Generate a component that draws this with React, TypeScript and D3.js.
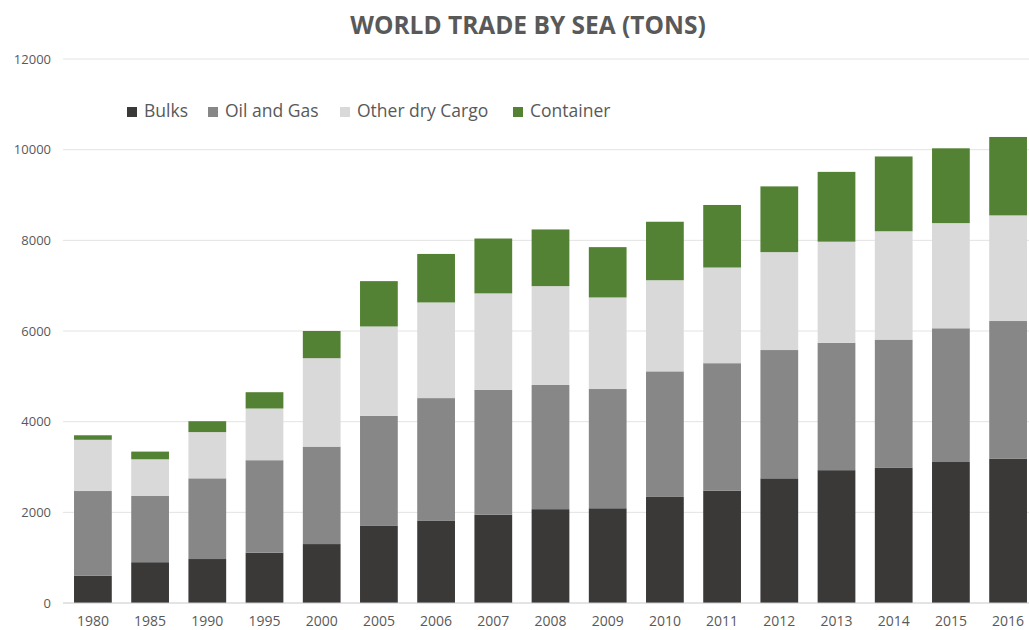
import React from "react";
import * as d3 from "d3";

const years = ["1980","1985","1990","1995","2000","2005","2006","2007","2008","2009","2010","2011","2012","2013","2014","2015","2016"];
const bulks = [600,900,970,1110,1300,1700,1820,1950,2070,2090,2340,2480,2750,2930,2980,3110,3180];
const oilGas = [1870,1460,1780,2040,2150,2430,2700,2750,2740,2630,2770,2810,2830,2810,2830,2950,3040];
const otherDry = [1130,810,1020,1140,1950,1970,2110,2130,2180,2020,2010,2110,2160,2230,2390,2320,2330];
const container = [100,170,240,360,600,1000,1070,1210,1250,1110,1290,1380,1450,1540,1650,1650,1730];
const seriesNames = ["Bulks","Oil and Gas","Other dry Cargo","Container"];
const seriesKeys = ["bulks","oil","other","container"];
const yTicks = [0,2000,4000,6000,8000,10000,12000];
const colors = ["#3b3838","#878787","#d9d9d9","#548235"];

const W = 1029, H = 630;

export default function App() {
  const table = years.map((y, i) => ({ year: y, bulks: bulks[i], oil: oilGas[i], other: otherDry[i], container: container[i] }));
  const stacked = d3.stack<any>().keys(seriesKeys)(table);
  const x = d3.scaleBand<string>().domain(years).range([64.3, 1036.7]).paddingInner(0.34).paddingOuter(0.17);
  const y = d3.scaleLinear().domain([0, 12000]).range([603, 59]);
  const legendX = [127, 208, 340, 513];
  const font = "'Open Sans', sans-serif";
  return (
    <svg width={W} height={H} style={{ position: "absolute", left: 0, top: 0, background: "#fff" }}>
      <text x={528} y={34} textAnchor="middle" fontFamily={font} fontWeight={700} fontSize={24.5} fill="#595959">WORLD TRADE BY SEA (TONS)</text>
      {yTicks.map(t => (
        <g key={t}>
          {t > 0 && <line x1={63} x2={W} y1={y(t)} y2={y(t)} stroke="#e3e3e3" strokeWidth={1} />}
          <text x={51} y={y(t)} dy="0.35em" textAnchor="end" fontFamily={font} fontSize={13} fill="#595959">{t}</text>
        </g>
      ))}
      {stacked.map((s, si) => (
        <g key={si} fill={colors[si]}>
          {s.map((d, i) => (
            <rect key={i} x={x(years[i])} width={x.bandwidth()} y={y(d[1])} height={y(d[0]) - y(d[1])} />
          ))}
        </g>
      ))}
      <line x1={63} x2={W} y1={y(0)} y2={y(0)} stroke="#c8c8c8" strokeWidth={1} />
      {years.map(yr => (
        <text key={yr} x={(x(yr) as number) + x.bandwidth() / 2} y={626} textAnchor="middle" fontFamily={font} fontSize={14} fill="#595959">{yr}</text>
      ))}
      {seriesNames.map((n, i) => (
        <g key={n}>
          <rect x={legendX[i]} y={107} width={10} height={10} fill={colors[i]} />
          <text x={legendX[i] + 17} y={117} fontFamily={font} fontSize={17.5} fill="#595959">{n}</text>
        </g>
      ))}
    </svg>
  );
}
